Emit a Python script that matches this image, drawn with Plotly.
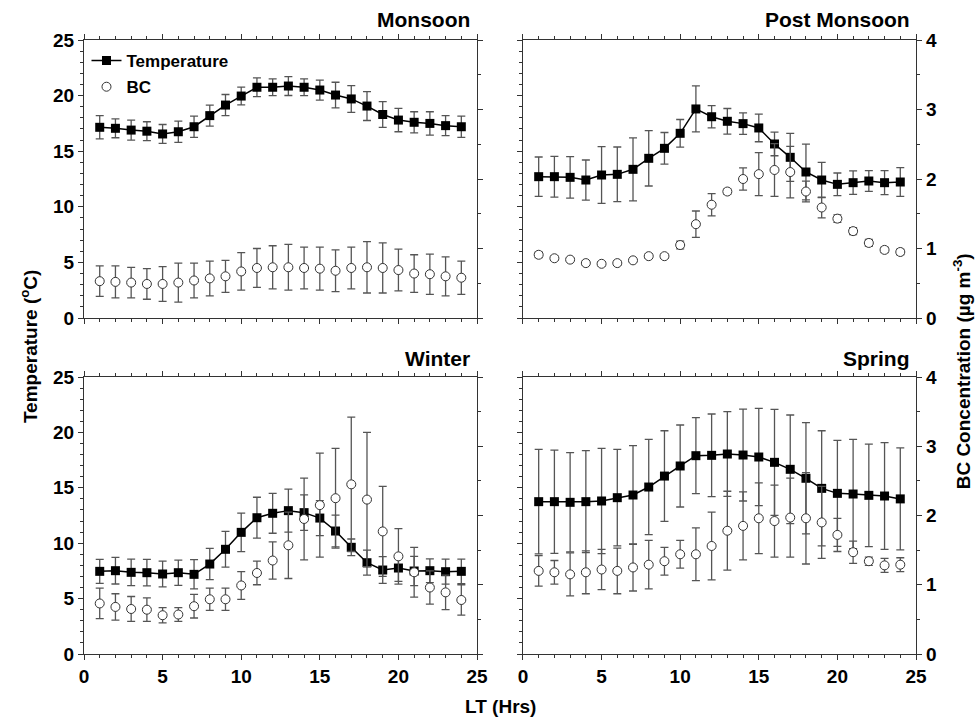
import plotly.graph_objects as go

hours = list(range(1, 25))

mon_temp = [17.15, 17.06, 16.9, 16.8, 16.55, 16.75, 17.2, 18.2, 19.15, 19.96, 20.75, 20.75,
            20.86, 20.75, 20.5, 20.05, 19.7, 19.06, 18.3, 17.8, 17.6, 17.5, 17.3, 17.2]
mon_temp_err = [1.05, 0.85, 0.9, 0.85, 0.85, 0.95, 0.95, 0.95, 0.95, 0.8, 0.85, 0.75,
                0.85, 0.75, 0.9, 1.15, 1.2, 1.3, 1.15, 1.05, 0.95, 1.05, 0.9, 0.95]
mon_bc = [0.53, 0.52, 0.51, 0.49, 0.49, 0.51, 0.54, 0.57, 0.60, 0.67, 0.72, 0.73,
          0.73, 0.72, 0.71, 0.68, 0.72, 0.73, 0.72, 0.69, 0.64, 0.63, 0.60, 0.58]
mon_bc_err = [0.22, 0.23, 0.22, 0.22, 0.25, 0.28, 0.25, 0.25, 0.23, 0.27, 0.28, 0.31,
              0.33, 0.30, 0.31, 0.30, 0.30, 0.37, 0.36, 0.30, 0.27, 0.29, 0.28, 0.24]

post_temp = [12.71, 12.71, 12.65, 12.41, 12.86, 12.92, 13.37, 14.36, 15.26, 16.61, 18.8, 18.1,
             17.69, 17.48, 17.09, 15.65, 14.45, 13.13, 12.41, 12.02, 12.17, 12.32, 12.17, 12.23]
post_temp_err = [1.77, 1.83, 1.87, 1.8, 2.55, 2.46, 2.83, 2.49, 1.42, 1.24, 2.07, 1.0,
                 1.15, 0.96, 1.24, 1.06, 2.16, 2.5, 1.59, 1.02, 1.06, 0.93, 1.08, 1.3]
post_bc = [0.91, 0.86, 0.84, 0.79, 0.78, 0.79, 0.83, 0.89, 0.89, 1.05, 1.35, 1.63,
           1.82, 2.0, 2.07, 2.13, 2.10, 1.82, 1.59, 1.43, 1.25, 1.08, 0.98, 0.95]
post_bc_err = [0.04, 0.03, 0.03, 0.03, 0.03, 0.03, 0.03, 0.03, 0.03, 0.055, 0.19, 0.16,
               0.04, 0.16, 0.31, 0.38, 0.37, 0.15, 0.15, 0.055, 0.05, 0.05, 0.04, 0.04]

win_temp = [7.46, 7.52, 7.37, 7.34, 7.22, 7.34, 7.19, 8.12, 9.45, 10.98, 12.3, 12.7,
            12.94, 12.76, 12.27, 11.1, 9.63, 8.24, 7.58, 7.76, 7.49, 7.52, 7.43, 7.46]
win_temp_err = [1.08, 1.2, 1.2, 1.2, 1.16, 1.14, 1.32, 1.41, 1.61, 1.74, 1.85, 1.8,
                1.94, 1.61, 1.58, 1.43, 0.75, 1.13, 1.2, 1.2, 1.32, 1.07, 1.13, 1.11]
win_bc = [0.73, 0.68, 0.65, 0.64, 0.56, 0.57, 0.69, 0.79, 0.79, 0.99, 1.17, 1.35,
          1.57, 1.95, 2.15, 2.25, 2.45, 2.23, 1.77, 1.41, 1.18, 0.96, 0.89, 0.78]
win_bc_err = [0.22, 0.19, 0.18, 0.17, 0.11, 0.10, 0.17, 0.16, 0.16, 0.20, 0.17, 0.27,
              0.48, 0.59, 0.75, 0.72, 0.97, 0.97, 0.65, 0.40, 0.36, 0.24, 0.25, 0.22]

spr_temp = [13.75, 13.75, 13.69, 13.75, 13.81, 14.11, 14.35, 15.07, 16.06, 16.97, 17.9, 17.93,
            18.05, 17.96, 17.78, 17.3, 16.67, 15.86, 14.95, 14.5, 14.44, 14.32, 14.26, 14.0]
spr_temp_err = [4.72, 4.66, 4.48, 4.6, 4.75, 4.36, 4.45, 4.3, 4.09, 3.7, 3.43, 3.73,
                3.82, 4.15, 4.39, 4.78, 4.9, 5.02, 5.2, 4.78, 4.93, 4.63, 4.81, 4.6]
spr_bc = [1.20, 1.18, 1.15, 1.18, 1.22, 1.20, 1.25, 1.29, 1.34, 1.44, 1.44, 1.56,
          1.78, 1.85, 1.96, 1.92, 1.97, 1.96, 1.90, 1.72, 1.47, 1.34, 1.28, 1.29]
spr_bc_err = [0.22, 0.17, 0.31, 0.31, 0.29, 0.33, 0.34, 0.35, 0.20, 0.20, 0.38, 0.49,
              0.57, 0.49, 0.51, 0.52, 0.57, 0.66, 0.52, 0.24, 0.16, 0.06, 0.10, 0.10]

seasons = ["Monsoon", "Post Monsoon", "Winter", "Spring"]
temps = [mon_temp, post_temp, win_temp, spr_temp]
temp_errs = [mon_temp_err, post_temp_err, win_temp_err, spr_temp_err]
bcs = [mon_bc, post_bc, win_bc, spr_bc]
bc_errs = [mon_bc_err, post_bc_err, win_bc_err, spr_bc_err]

FONT = "Liberation Sans, Arial, sans-serif"
AX = "#333333"
ERR = "#555555"

fig = go.Figure()

for i in range(4):
    xa = "x" if i == 0 else f"x{i+1}"
    ya = "y" if i == 0 else f"y{i+1}"
    yb = f"y{i+5}"
    fig.add_trace(go.Scatter(
        x=hours, y=temps[i], mode="lines+markers", name="Temperature",
        xaxis=xa, yaxis=ya, showlegend=(i == 0), legendgroup="t",
        line=dict(color="black", width=1.5),
        marker=dict(symbol="square", size=9, color="black"),
        error_y=dict(type="data", array=temp_errs[i], color=ERR, thickness=1.3, width=4),
    ))
    fig.add_trace(go.Scatter(
        x=hours, y=bcs[i], mode="markers", name="BC",
        xaxis=xa, yaxis=yb, showlegend=(i == 0), legendgroup="b",
        marker=dict(symbol="circle", size=9, color="white", line=dict(color="#333", width=1)),
        error_y=dict(type="data", array=bc_errs[i], color=ERR, thickness=1.3, width=4),
    ))

xdom_l = [0.0, 0.4724]
xdom_r = [0.5276, 1.0]
ydom_t = [0.5472, 1.0]
ydom_b = [0.0, 0.4511]

tickf = dict(family=FONT, size=19, color="black", weight="bold")

def xaxis(dom, anchor, labels):
    return dict(domain=dom, anchor=anchor, range=[0, 25], dtick=5, tick0=0,
                showline=True, linecolor=AX, linewidth=1.2, mirror="ticks",
                ticks="outside", ticklen=5, tickcolor=AX, tickwidth=1.2,
                minor=dict(dtick=1, ticks="outside", ticklen=3, tickcolor=AX, tickwidth=1),
                showgrid=False, zeroline=False, showticklabels=labels, tickfont=tickf)

def yaxis(dom, anchor, labels):
    return dict(domain=dom, anchor=anchor, range=[0, 25], dtick=5, tick0=0,
                showline=True, linecolor=AX, linewidth=1.2, mirror=False,
                ticks="outside", ticklen=5, tickcolor=AX, tickwidth=1.2,
                minor=dict(dtick=1, ticks="outside", ticklen=3, tickcolor=AX, tickwidth=1),
                showgrid=False, zeroline=False, showticklabels=labels, tickfont=tickf)

def y2axis(over, anchor, labels):
    return dict(overlaying=over, anchor=anchor, side="right", range=[0, 4], dtick=1, tick0=0,
                showline=True, linecolor=AX, linewidth=1.2,
                ticks="outside", ticklen=5, tickcolor=AX, tickwidth=1.2,
                minor=dict(dtick=0.5, ticks="outside", ticklen=3, tickcolor=AX, tickwidth=1),
                showgrid=False, zeroline=False, showticklabels=labels, tickfont=tickf)

fig.update_layout(
    width=980, height=720,
    margin=dict(l=84, r=64, t=40, b=66),
    paper_bgcolor="white", plot_bgcolor="white",
    font=dict(family=FONT, color="black"),
    xaxis=xaxis(xdom_l, "y", False),
    xaxis2=xaxis(xdom_r, "y2", False),
    xaxis3=xaxis(xdom_l, "y3", True),
    xaxis4=xaxis(xdom_r, "y4", True),
    yaxis=yaxis(ydom_t, "x", True),
    yaxis2=yaxis(ydom_t, "x2", False),
    yaxis3=yaxis(ydom_b, "x3", True),
    yaxis4=yaxis(ydom_b, "x4", False),
    yaxis5=y2axis("y", "x", False),
    yaxis6=y2axis("y2", "x2", True),
    yaxis7=y2axis("y3", "x3", False),
    yaxis8=y2axis("y4", "x4", True),
    legend=dict(x=0.003, y=0.995, xanchor="left", yanchor="top",
                bgcolor="rgba(0,0,0,0)", traceorder="grouped", tracegroupgap=1,
                font=dict(family=FONT, size=17, color="black", weight="bold")),
    showlegend=True,
)

title_font = dict(family=FONT, size=21, color="black", weight="bold")
title_pos = [(0.466, 1.033), (0.995, 1.033), (0.466, 0.482), (0.995, 0.482)]
for name, (tx, ty) in zip(seasons, title_pos):
    fig.add_annotation(text=name, x=tx, y=ty, xref="paper", yref="paper",
                       xanchor="right", yanchor="middle", showarrow=False, font=title_font)

ax_font = dict(family=FONT, size=19, color="black", weight="bold")
fig.add_annotation(text="Temperature (<sup>o</sup>C)", x=-0.066, y=0.5, xref="paper", yref="paper",
                   textangle=-90, showarrow=False, font=ax_font, xanchor="center", yanchor="middle")
fig.add_annotation(text="BC Concentration (\u00b5g m<sup>-3</sup>)", x=1.055, y=0.46,
                   xref="paper", yref="paper", textangle=-90, showarrow=False, font=ax_font,
                   xanchor="center", yanchor="middle")
fig.add_annotation(text="LT (Hrs)", x=0.5, y=-0.086, xref="paper", yref="paper",
                   showarrow=False, font=ax_font, xanchor="center", yanchor="middle")

fig.write_html("out.html")
